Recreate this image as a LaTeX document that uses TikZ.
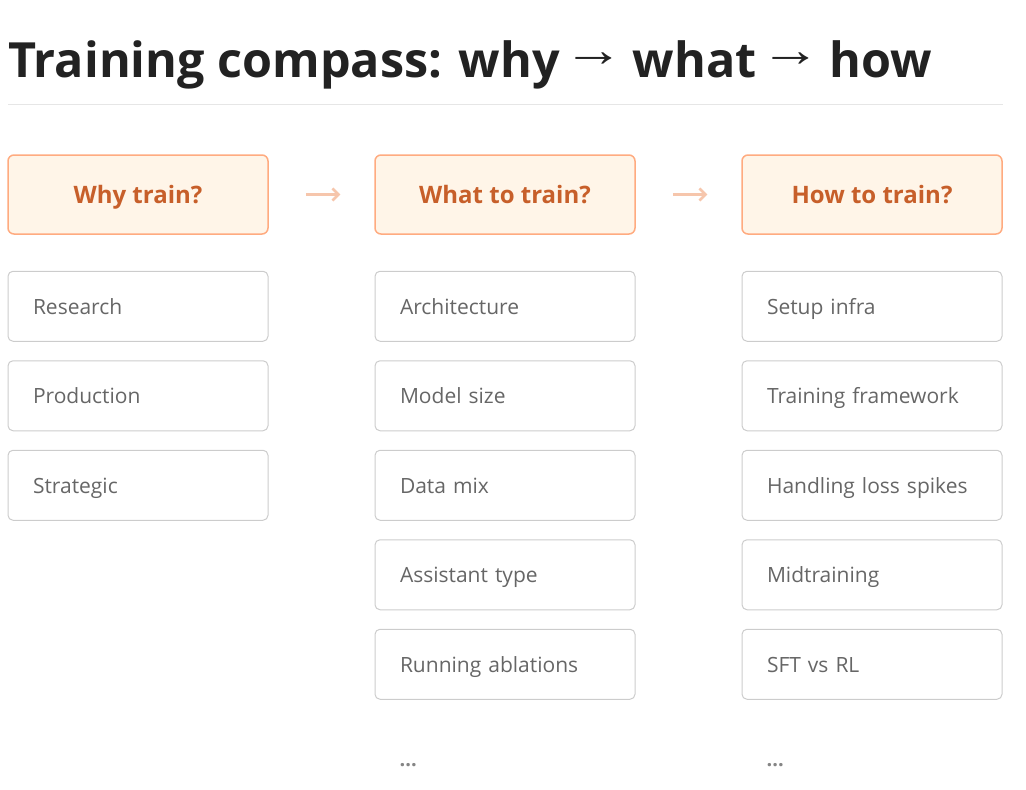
\documentclass[tikz,border=0pt]{standalone}
\usepackage{fontspec}
\setmainfont{Open Sans}
\newfontfamily\arrowfont{Liberation Sans}
\usetikzlibrary{positioning,arrows.meta}
\definecolor{titlegray}{HTML}{222222}
\definecolor{rulegray}{HTML}{E6E6E6}
\definecolor{headfill}{HTML}{FFF5E8}
\definecolor{headline}{HTML}{FFAB80}
\definecolor{headtext}{HTML}{C75F2A}
\definecolor{arrowtint}{HTML}{F6C6AC}
\definecolor{itemline}{HTML}{CCCCCC}
\definecolor{itemtext}{HTML}{666666}
\tikzstyle{header}=[draw=headline,fill=headfill,line width=1.5pt,rounded corners=6pt,minimum width=260pt,minimum height=79pt,text height=19pt,text depth=2pt,text=headtext,font=\fontsize{24}{28}\selectfont\bfseries]
\tikzstyle{item}=[draw=itemline,line width=1pt,rounded corners=5pt,minimum height=70pt,text height=18pt,text depth=2pt,text width=210pt,inner xsep=25pt,align=left,text=itemtext,font=\fontsize{21}{24}\selectfont]
\tikzstyle{step arrow}=[draw=arrowtint,line width=2.5pt,-{Straight Barb[length=6pt,width=12pt]},shorten <=37pt,shorten >=34pt]
\tikzstyle{more}=[text=itemtext!80,font=\fontsize{20}{20}\selectfont\bfseries,inner sep=0pt]
\newcommand{\titlearrow}{\hspace{-9pt}{\arrowfont\mdseries\raisebox{11pt}{\scalebox{1.25}[1]{→}}}\hspace{-4pt}}

\begin{document}
\begin{tikzpicture}[x=1pt,y=-1pt,node distance=18.5pt]
        \useasboundingbox (0,0) rectangle (1026,790);
        \node [anchor=base west,inner sep=0pt,text=titlegray,font=\fontsize{48.5}{60}\selectfont\bfseries] (title) at (8,77) {Training compass: why \titlearrow{} what \titlearrow{} how};
        \coordinate (r1) at (8,104);
        \coordinate (r2) at (1003,104);
        \draw [rulegray,line width=1pt] (r1) -- (r2);

        \node [header] (why) at (138,194.5) {Why train?};
        \node [header] (what) at (505,194.5) {What to train?};
        \node [header] (how) at (872,194.5) {How to train?};
        \draw [step arrow] (why) -- (what);
        \draw [step arrow] (what) -- (how);

        \node [item,below=36pt of why] (why1) {Research};
        \node [item,below=of why1] (why2) {Production};
        \node [item,below=of why2] (why3) {Strategic};

        \node [item,below=36pt of what] (what1) {Architecture};
        \node [item,below=of what1] (what2) {Model size};
        \node [item,below=of what2] (what3) {Data mix};
        \node [item,below=of what3] (what4) {Assistant type};
        \node [item,below=of what4] (what5) {Running ablations};
        \node [more,below=65pt of what5.south west,xshift=25pt,anchor=west] (what6) {...};

        \node [item,below=36pt of how] (how1) {Setup infra};
        \node [item,below=of how1] (how2) {Training framework};
        \node [item,below=of how2] (how3) {Handling loss spikes};
        \node [item,below=of how3] (how4) {Midtraining};
        \node [item,below=of how4] (how5) {SFT vs RL};
        \node [more,below=65pt of how5.south west,xshift=25pt,anchor=west] (how6) {...};
      \end{tikzpicture}
\end{document}
